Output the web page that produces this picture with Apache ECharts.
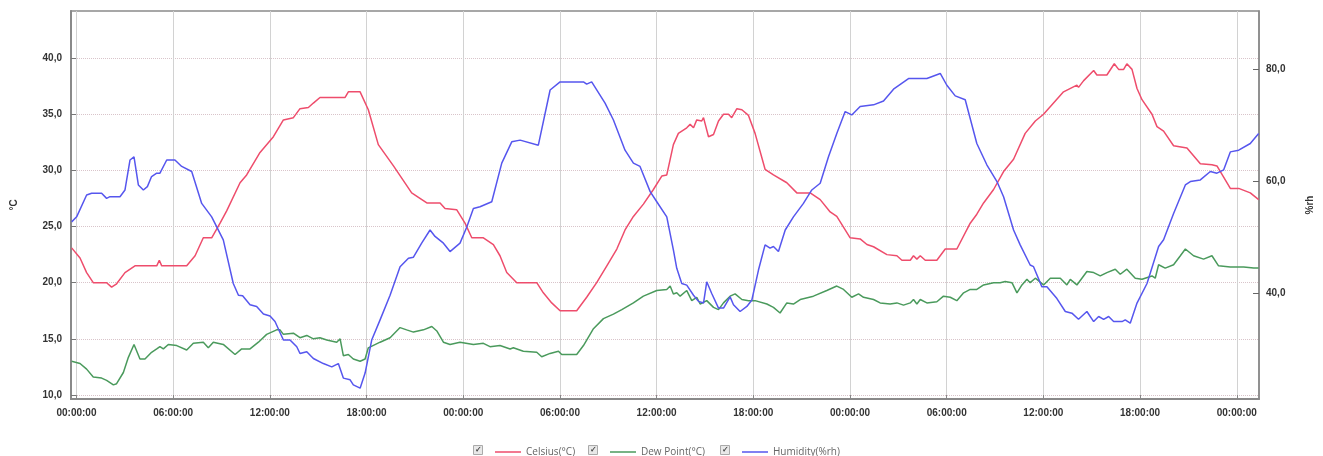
<!DOCTYPE html>
<html>
<head>
<meta charset="utf-8">
<script src="https://cdn.jsdelivr.net/npm/echarts@6/dist/echarts.min.js"></script>
<style>
  html, body { margin: 0; padding: 0; background: #fff; }
  #chart { width: 1323px; height: 456px; }
</style>
</head>
<body>
<div id="chart"></div>
<script>
// hours since first midnight, value
const celsius = [
  [-0.30,23.1],[0.22,22.2],[0.63,20.9],[1.04,20.0],[1.87,20.0],[2.18,19.6],[2.49,19.9],[3.01,20.9],
  [3.63,21.5],[4.98,21.5],[5.14,22.0],[5.29,21.5],[6.84,21.5],[7.36,22.4],[7.87,24.0],[8.39,24.0],
  [8.91,25.3],[9.32,26.4],[10.15,28.9],[10.56,29.6],[11.39,31.6],[12.22,33.0],[12.84,34.5],[13.46,34.7],
  [13.87,35.5],[14.39,35.6],[14.70,36.0],[15.11,36.5],[16.67,36.5],[16.87,37.0],[17.60,37.0],[18.11,35.4],
  [18.73,32.3],[19.67,30.4],[20.80,28.0],[21.22,27.6],[21.74,27.1],[22.56,27.1],[22.87,26.6],[23.59,26.5],
  [24.11,25.3],[24.53,24.0],[25.25,24.0],[25.87,23.4],[26.28,22.4],[26.70,20.9],[27.32,20.0],[28.56,20.0],
  [28.97,19.1],[29.49,18.2],[30.01,17.5],[31.04,17.5],[31.66,18.7],[32.28,20.0],[32.91,21.5],[33.53,23.0],
  [34.04,24.7],[34.56,25.9],[35.18,27.0],[35.80,28.3],[36.32,29.5],[36.63,29.6],[37.04,32.3],[37.35,33.3],
  [37.87,33.8],[38.08,34.1],[38.29,33.8],[38.49,34.5],[38.80,34.4],[38.91,34.7],[39.22,33.0],[39.53,33.2],
  [39.84,34.4],[40.15,35.0],[40.46,35.0],[40.66,34.7],[40.98,35.5],[41.29,35.4],[41.70,34.9],[42.11,33.3],
  [42.73,30.1],[43.25,29.6],[44.08,28.9],[44.70,28.0],[45.53,28.0],[46.15,27.4],[46.77,26.3],[47.18,25.9],
  [48.01,24.0],[48.63,23.9],[49.05,23.4],[49.46,23.2],[50.29,22.5],[50.91,22.4],[51.22,22.0],[51.74,22.0],
  [51.94,22.4],[52.15,22.1],[52.36,22.4],[52.67,22.0],[53.39,22.0],[53.91,23.0],[54.63,23.0],[55.46,25.3],
  [55.87,26.1],[56.29,27.1],[56.91,28.3],[57.53,29.9],[58.15,31.0],[58.87,33.3],[59.50,34.4],[60.01,35.0],
  [60.63,36.0],[61.25,37.0],[62.08,37.6],[62.18,37.4],[62.50,38.0],[63.12,38.9],[63.32,38.5],[63.94,38.5],
  [64.40,39.5],[64.67,39.0],[64.98,39.0],[65.18,39.5],[65.50,39.0],[65.81,37.3],[66.12,36.3],[66.74,35.0],
  [67.05,33.9],[67.46,33.5],[68.08,32.2],[68.91,32.0],[69.74,30.6],[70.46,30.5],[70.77,30.4],[71.60,28.4],
  [72.12,28.4],[72.84,28.0],[73.36,27.4]
];

const dewPoint = [
  [-0.30,13.0],[0.22,12.8],[0.63,12.3],[1.04,11.6],[1.56,11.5],[1.87,11.3],[2.29,10.9],[2.49,11.0],
  [2.91,12.0],[3.22,13.35],[3.57,14.5],[3.94,13.2],[4.25,13.2],[4.66,13.8],[4.98,14.1],[5.18,14.3],
  [5.39,14.1],[5.70,14.5],[6.22,14.4],[6.84,14.0],[7.25,14.6],[7.87,14.7],[8.18,14.2],[8.49,14.7],
  [9.11,14.5],[9.84,13.6],[10.25,14.1],[10.77,14.1],[11.29,14.7],[11.80,15.4],[12.42,15.8],[12.63,15.8],
  [12.84,15.4],[13.46,15.5],[13.87,15.1],[14.29,15.3],[14.70,15.0],[15.11,15.1],[15.53,14.9],[16.15,14.7],
  [16.36,15.0],[16.56,13.5],[16.87,13.6],[17.18,13.2],[17.60,13.0],[17.91,13.2],[18.11,14.2],[18.84,14.7],
  [19.46,15.1],[20.08,16.0],[20.49,15.8],[20.91,15.6],[21.53,15.8],[22.05,16.1],[22.36,15.7],[22.77,14.7],
  [23.18,14.5],[23.80,14.7],[24.63,14.5],[25.25,14.6],[25.66,14.3],[26.28,14.4],[26.91,14.1],[27.11,14.2],
  [27.73,13.9],[28.56,13.8],[28.87,13.4],[29.39,13.7],[29.91,13.9],[30.11,13.6],[31.04,13.6],[31.46,14.4],
  [32.08,15.9],[32.70,16.8],[33.32,17.2],[33.84,17.6],[34.56,18.2],[35.18,18.8],[36.01,19.3],[36.63,19.4],
  [36.84,19.7],[37.04,19.0],[37.25,19.1],[37.46,18.8],[37.87,19.3],[38.18,18.4],[38.49,18.7],[38.70,18.1],
  [39.11,18.4],[39.53,17.8],[39.84,17.6],[40.15,18.2],[40.56,18.8],[40.87,19.0],[41.29,18.5],[41.70,18.4],
  [42.11,18.4],[42.84,18.1],[43.25,17.8],[43.66,17.3],[44.08,18.2],[44.49,18.1],[44.91,18.5],[45.73,18.8],
  [46.56,19.3],[47.18,19.7],[47.60,19.4],[48.11,18.7],[48.53,19.0],[48.84,18.7],[49.46,18.5],[49.87,18.2],
  [50.49,18.1],[50.91,18.2],[51.32,18.0],[51.74,18.2],[51.94,18.5],[52.15,18.1],[52.36,18.5],[52.77,18.2],
  [53.39,18.3],[53.80,18.8],[54.22,18.7],[54.63,18.4],[55.05,19.1],[55.46,19.4],[55.87,19.4],[56.29,19.8],
  [56.91,20.0],[57.32,20.0],[57.63,20.1],[58.05,20.0],[58.36,19.1],[58.67,19.8],[58.98,20.3],[59.18,20.0],
  [59.50,20.4],[60.01,19.8],[60.43,20.4],[61.05,20.4],[61.46,19.8],[61.67,20.3],[62.08,19.8],[62.70,21.0],
  [63.12,20.9],[63.53,20.6],[63.94,20.9],[64.46,21.2],[64.77,20.75],[65.18,21.2],[65.70,20.4],[66.12,20.3],
  [66.74,20.6],[66.94,20.4],[67.15,21.6],[67.56,21.3],[68.08,21.6],[68.50,22.4],[68.81,23.0],[69.32,22.4],
  [69.94,22.1],[70.46,22.4],[70.87,21.5],[71.60,21.4],[72.43,21.4],[73.05,21.3],[73.36,21.3]
];

const humidity = [
  [-0.30,52.7],[0.01,53.6],[0.63,57.5],[0.94,57.8],[1.56,57.8],[1.87,56.9],[2.08,57.2],[2.70,57.2],
  [3.01,58.4],[3.32,63.75],[3.57,64.3],[3.84,59.3],[4.15,58.4],[4.40,59.0],[4.66,60.8],[4.98,61.4],
  [5.18,61.4],[5.60,63.75],[6.11,63.75],[6.53,62.6],[7.15,61.7],[7.77,56.0],[8.39,53.6],[9.11,49.5],
  [9.73,41.7],[10.05,39.6],[10.31,39.5],[10.77,37.9],[11.18,37.6],[11.60,36.25],[12.01,35.9],[12.32,34.9],
  [12.84,31.6],[13.25,31.6],[13.67,30.4],[13.87,29.2],[14.29,29.5],[14.70,28.3],[15.32,27.4],[15.84,26.8],
  [16.25,27.4],[16.56,24.8],[16.98,24.5],[17.18,23.6],[17.60,23.0],[17.91,25.7],[18.32,31.6],[18.84,35.2],
  [19.46,39.6],[20.08,44.7],[20.60,46.2],[20.91,46.4],[21.42,48.9],[21.94,51.25],[22.25,50.1],[22.77,48.9],
  [23.18,47.4],[23.80,48.9],[24.22,51.8],[24.63,55.1],[25.04,55.4],[25.77,56.3],[26.39,63.2],[27.01,67.0],
  [27.53,67.3],[28.66,66.4],[29.39,76.25],[30.01,77.7],[31.46,77.7],[31.66,77.3],[31.97,77.7],[32.80,73.9],
  [33.32,70.9],[34.04,65.5],[34.56,63.2],[34.97,62.6],[35.60,58.1],[36.01,56.3],[36.63,53.6],[37.04,47.7],
  [37.25,44.4],[37.56,41.7],[37.87,41.4],[38.29,39.6],[38.60,38.5],[38.91,38.2],[39.11,42.0],[39.42,39.9],
  [39.84,37.3],[40.15,37.3],[40.56,39.3],[40.77,37.9],[41.18,36.7],[41.60,37.6],[41.91,38.75],[42.32,44.1],
  [42.73,48.6],[43.04,48.0],[43.25,48.3],[43.56,47.4],[43.98,51.25],[44.49,53.6],[45.11,56.0],[45.63,58.4],
  [46.15,59.6],[46.66,64.3],[47.18,68.5],[47.70,72.4],[48.11,71.8],[48.63,73.3],[49.46,73.6],[50.08,74.3],
  [50.70,76.4],[51.63,78.3],[52.77,78.3],[53.60,79.2],[54.01,77.1],[54.53,75.2],[55.15,74.5],[55.87,66.7],
  [56.49,62.9],[57.12,59.9],[57.53,57.2],[58.15,51.25],[58.56,48.6],[59.18,45.0],[59.39,44.7],[59.91,41.1],
  [60.22,41.1],[60.84,39.0],[61.36,36.7],[61.77,36.4],[62.18,35.3],[62.70,36.7],[63.12,34.9],[63.43,35.8],
  [63.74,35.3],[64.05,35.8],[64.36,34.9],[64.88,34.9],[65.08,35.2],[65.39,34.6],[65.81,38.2],[66.43,41.7],
  [67.15,48.3],[67.46,49.5],[68.08,54.2],[68.81,59.3],[69.12,59.9],[69.74,60.2],[70.36,61.7],[70.77,61.4],
  [71.19,62.0],[71.60,65.2],[72.12,65.5],[72.84,66.7],[73.36,68.5]
];

const timeTicks = [0, 6, 12, 18, 24, 30, 36, 42, 48, 54, 60, 66, 72];
const tempTicks = [10, 15, 20, 25, 30, 35, 40];
const humTicks = [40, 60, 80];
const seriesNames = ['Celsius(°C)', 'Dew Point(°C)', 'Humidity(%rh)'];
const colors = ['#ee4d6c', '#4a9a5c', '#5656ee'];

const comma = v => v.toFixed(1).replace('.', ',');
const clock = v => {
  const h = ((v % 24) + 24) % 24;
  return (h < 10 ? '0' + h : '' + h) + ':00:00';
};

const legendLeft = [490, 605, 737];
const labelFont = { color: '#333', fontSize: 10, fontWeight: 'bold', fontFamily: 'Liberation Sans, Arial, sans-serif' };

const chart = echarts.init(document.getElementById('chart'));
chart.setOption({
  backgroundColor: '#fff',
  animation: false,
  color: colors,
  grid: {
    left: 71, right: 64, top: 11, bottom: 57,
    show: true, borderColor: '#8a8a8a', borderWidth: 1.5
  },
  legend: legendLeft.map((l, i) => ({
    data: [seriesNames[i]],
    left: l, top: 442,
    icon: 'rect', itemWidth: 26, itemHeight: 1.5,
    textStyle: { color: '#666', fontSize: 10, fontFamily: 'Open Sans, sans-serif' }
  })),
  graphic: legendLeft.map(l => ({
    type: 'group', left: l - 17, top: 445,
    children: [
      { type: 'rect', shape: { x: 0, y: 0, width: 9, height: 9 }, style: { fill: '#e8e8e8', stroke: '#aaa', lineWidth: 1 } },
      { type: 'text', x: 1.5, y: 0, style: { text: '✓', fill: '#444', fontSize: 8, fontWeight: 'bold' } }
    ]
  })),
  xAxis: {
    type: 'value',
    min: -0.34, max: 73.38,
    axisLine: { show: true, onZero: false, lineStyle: { color: '#8a8a8a', width: 2 } },
    axisTick: { show: true, inside: true, length: 4, customValues: timeTicks, lineStyle: { color: '#888' } },
    axisLabel: { customValues: timeTicks, formatter: clock, margin: 9, ...labelFont },
    splitLine: { show: true, lineStyle: { color: '#d2d2d2', width: 1 } }
  },
  yAxis: [
    {
      type: 'value',
      min: 9.64, max: 44.2,
      name: '°C', nameLocation: 'middle', nameGap: 52,
      nameTextStyle: { color: '#333', fontSize: 10, fontWeight: 'bold' },
      axisLine: { show: true, onZero: false, lineStyle: { color: '#8a8a8a', width: 2 } },
      axisTick: { show: true, inside: true, length: 5, customValues: tempTicks, lineStyle: { color: '#777' } },
      axisLabel: { customValues: tempTicks, formatter: comma, margin: 9, ...labelFont },
      splitLine: { show: true, lineStyle: { color: '#d9c4ca', type: 'dotted', width: 1 } }
    },
    {
      type: 'value',
      position: 'right',
      min: 21.07, max: 90.36,
      name: '%rh', nameLocation: 'middle', nameGap: 46,
      nameTextStyle: { color: '#333', fontSize: 10, fontWeight: 'bold' },
      axisLine: { show: true, onZero: false, lineStyle: { color: '#8a8a8a', width: 1.5 } },
      axisTick: { show: true, inside: true, length: 6, customValues: humTicks, lineStyle: { color: '#666' } },
      axisLabel: { customValues: humTicks, formatter: comma, margin: 7, ...labelFont },
      splitLine: { show: false }
    }
  ],
  series: [
    { name: seriesNames[0], type: 'line', data: celsius, showSymbol: false, lineStyle: { width: 1.5 } },
    { name: seriesNames[1], type: 'line', data: dewPoint, showSymbol: false, lineStyle: { width: 1.5 } },
    { name: seriesNames[2], type: 'line', yAxisIndex: 1, data: humidity, showSymbol: false, lineStyle: { width: 1.5 } }
  ]
});
</script>
</body>
</html>
